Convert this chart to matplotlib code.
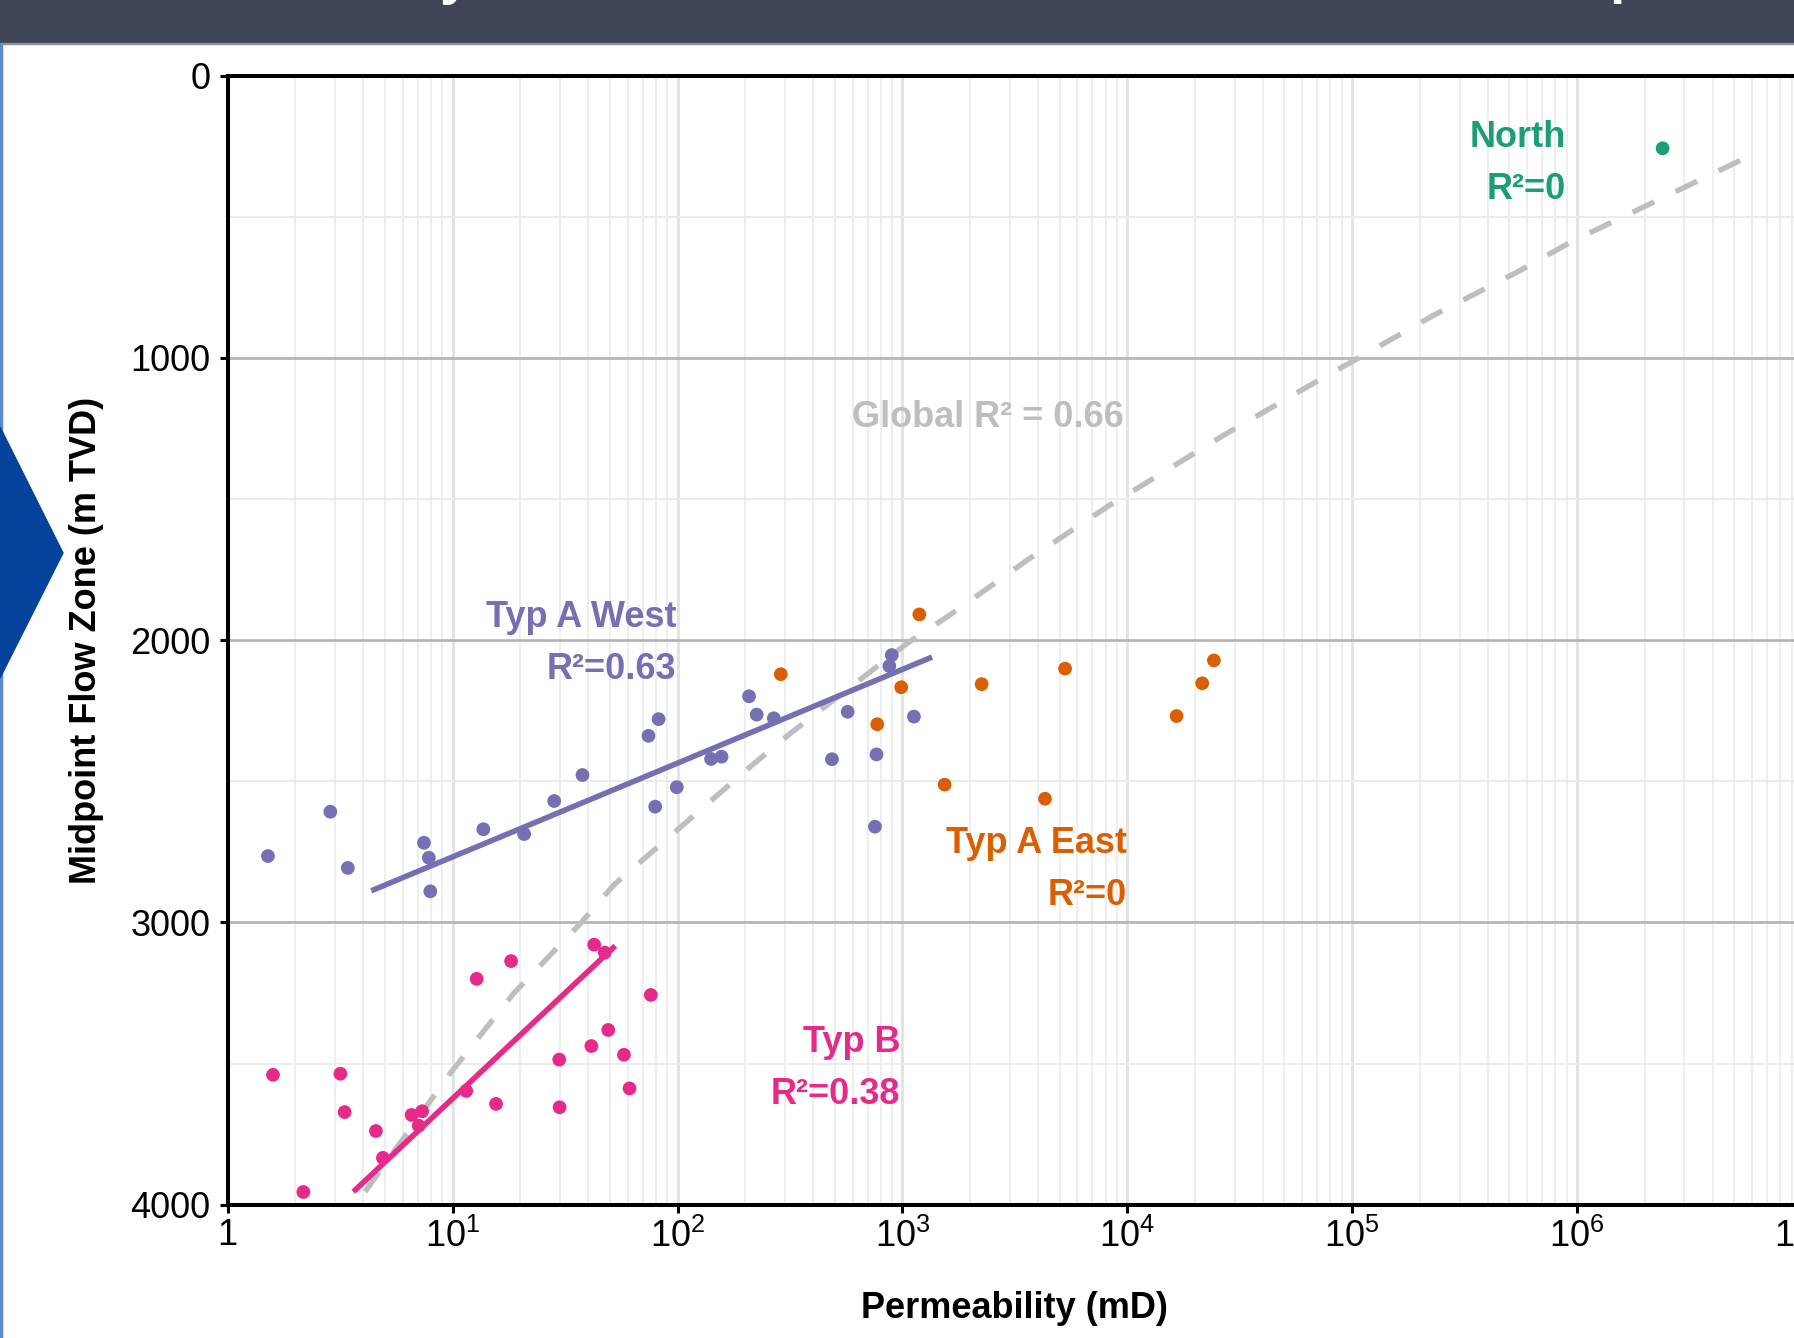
import numpy as np
import matplotlib
matplotlib.use("Agg")
import matplotlib.pyplot as plt
from matplotlib.patches import Rectangle, Polygon
from matplotlib.ticker import FixedLocator, FixedFormatter, LogLocator, MultipleLocator

plt.rcParams["font.family"] = ["Liberation Sans", "DejaVu Sans"]
plt.rcParams["mathtext.fontset"] = "custom"
plt.rcParams["mathtext.rm"] = "Liberation Sans"
plt.rcParams["mathtext.it"] = "Liberation Sans:italic"
plt.rcParams["mathtext.bf"] = "Liberation Sans:bold"

# --- data (permeability in mD, depth in m TVD) ---
west_k = [1.51, 2.86, 3.42, 7.46, 7.84, 7.96, 13.7, 20.8, 28.3, 37.8, 74.3, 82.4, 79.6,
          99.3, 141, 157, 208, 225, 268, 486, 571, 767, 755, 897, 875, 1125]
west_depth = [2765, 2608, 2807, 2718, 2771, 2890, 2670, 2687, 2570, 2478, 2339, 2280, 2590,
              2521, 2421, 2413, 2199, 2264, 2277, 2422, 2254, 2405, 2661, 2053, 2092, 2271]

east_k = [288, 773, 988, 1189, 1541, 2251, 4307, 5288, 16560, 21530, 24270]
east_depth = [2121, 2298, 2167, 1909, 2512, 2156, 2562, 2101, 2269, 2153, 2072]

typb_k = [1.59, 2.17, 3.17, 3.31, 4.56, 4.90, 6.57, 7.32, 7.07, 11.5, 12.8, 15.6, 18.2,
          29.8, 29.9, 41.4, 42.6, 47.5, 49.2, 57.8, 61.2, 76.1]
typb_depth = [3540, 3955, 3536, 3672, 3739, 3834, 3682, 3669, 3720, 3597, 3200, 3643, 3137,
              3486, 3655, 3438, 3079, 3107, 3381, 3469, 3588, 3257]

north_k = [2.40e6]
north_depth = [258]

# fitted lines (end points)
west_fit_k = [4.35, 1355]
west_fit_depth = [2888, 2060]
typb_fit_k = [3.62, 52.9]
typb_fit_depth = [3954, 3083]

# global fit curve
global_k = [4.08, 9.75, 18.7, 37.1, 52.0, 211, 318, 1052, 1585, 2388, 3597, 8166,
            26980, 63390, 105900, 231700, 545800, 941900, 5957000]
global_depth = [3954, 3535, 3251, 3003, 2868, 2448, 2330, 2011, 1917, 1817, 1716, 1527,
                1273, 1102, 1002, 848, 695, 589, 282]

group_names = ["Typ A West", "Typ A East", "Typ B", "North"]
group_r2 = ["R²=0.63", "R²=0", "R²=0.38", "R²=0"]
global_label = "Global R² = 0.66"

x_ticks = [1, 1e1, 1e2, 1e3, 1e4, 1e5, 1e6, 1e7]
x_ticklabels = ["1", "$10^{1}$", "$10^{2}$", "$10^{3}$", "$10^{4}$", "$10^{5}$",
                "$10^{6}$", "$10^{7}$"]
y_ticks = [0, 1000, 2000, 3000, 4000]

# --- style ---
C_WEST = "#7570B3"
C_EAST = "#D95F02"
C_TYPB = "#E7298A"
C_NORTH = "#1B9E77"
C_GLOBAL = "#BEBEBE"

W, H = 1794, 1338
fig = plt.figure(figsize=(W / 100, H / 100), dpi=100)

# slide decoration: title banner, left border, blue chevron
fig.patches.append(Rectangle((0, 1 - 43 / H), 1, 43 / H, transform=fig.transFigure,
                             color="#404556", zorder=0))
fig.patches.append(Rectangle((0, 1 - 44 / H), 1, 1.5 / H, transform=fig.transFigure,
                             color="#8A90A0", zorder=0))
fig.patches.append(Rectangle((0, 0), 2 / W, 1 - 44 / H, transform=fig.transFigure,
                             color="#5A8AD0", zorder=0))
fig.patches.append(Polygon([(0, 1 - 427 / H), (63 / W, 1 - 553 / H), (0, 1 - 678 / H)],
                           closed=True, transform=fig.transFigure, color="#04439C", zorder=0))
# descenders of the cut-off slide title
fig.text(455 / W, 1 + 6.7 / H, "y", color="white", fontsize=40, fontweight="bold",
         ha="center", va="baseline")
fig.text(1609 / W, 1 + 7.5 / H, "p", color="white", fontsize=40, fontweight="bold",
         ha="left", va="baseline")

ax = fig.add_axes([227.7 / W, 1 - 1204.7 / H, (1802 - 227.7) / W, (1204.7 - 75.5) / H])
ax.set_xscale("log")
ax.set_xlim(1, 1e7)
ax.set_ylim(4000, 0)

ax.xaxis.set_major_locator(FixedLocator(x_ticks))
ax.xaxis.set_major_formatter(FixedFormatter(x_ticklabels))
ax.xaxis.set_minor_locator(LogLocator(base=10, subs=np.arange(2, 10), numticks=100))
ax.yaxis.set_major_locator(FixedLocator(y_ticks))
ax.yaxis.set_minor_locator(MultipleLocator(500))

ax.set_axisbelow(True)
ax.xaxis.grid(True, which="major", color="#E3E3E3", lw=2.1)
ax.xaxis.grid(True, which="minor", color="#EDEDED", lw=1.3)
ax.yaxis.grid(True, which="major", color="#B3B3B3", lw=1.9)
ax.yaxis.grid(True, which="minor", color="#EBEBEB", lw=1.4)

for side in ["top", "left", "bottom"]:
    ax.spines[side].set_linewidth(2.9)
    ax.spines[side].set_color("black")
ax.spines["right"].set_visible(False)

ax.tick_params(axis="both", which="major", length=5.8, width=2.2, labelsize=26,
               color="black", labelcolor="black")
ax.tick_params(axis="y", which="major", pad=6.5)
ax.tick_params(axis="x", which="major", pad=4)
ax.tick_params(which="minor", length=0)

# global fit
ax.plot(global_k, global_depth, color=C_GLOBAL, lw=3.9, dashes=(4.4, 4.4), zorder=2)

# group fits
ax.plot(west_fit_k, west_fit_depth, color=C_WEST, lw=4.0, solid_capstyle="butt", zorder=3)
ax.plot(typb_fit_k, typb_fit_depth, color=C_TYPB, lw=4.0, solid_capstyle="butt", zorder=3)

# points
ms = 98
ax.scatter(west_k, west_depth, s=ms, color=C_WEST, edgecolors="none", zorder=4)
ax.scatter(east_k, east_depth, s=ms, color=C_EAST, edgecolors="none", zorder=4)
ax.scatter(typb_k, typb_depth, s=ms, color=C_TYPB, edgecolors="none", zorder=4)
ax.scatter(north_k, north_depth, s=ms, color=C_NORTH, edgecolors="none", zorder=4)

# group labels: right edge k, baseline depth of first line, second line below
label_pos = [(99, 1952), (1.0e4, 2753), (980, 3459), (8.95e5, 252)]
label_cols = [C_WEST, C_EAST, C_TYPB, C_NORTH]
for name, r2, (lk, ld), col in zip(group_names, group_r2, label_pos, label_cols):
    ax.text(lk, ld, name, color=col, fontsize=26, fontweight="bold",
            ha="right", va="baseline", zorder=5)
    ax.text(lk, ld + 185, r2, color=col, fontsize=26, fontweight="bold",
            ha="right", va="baseline", zorder=5)

ax.text(598, 1244, global_label, color=C_GLOBAL, fontsize=26, fontweight="bold",
        ha="left", va="baseline", zorder=5)

ax.set_xlabel("Permeability (mD)", fontsize=26, fontweight="bold", va="baseline")
ax.xaxis.set_label_coords(0.5, (1204.7 - 1318) / (1204.7 - 75.5))
ax.set_ylabel("Midpoint Flow Zone (m TVD)", fontsize=26, fontweight="bold", va="baseline")
ax.yaxis.set_label_coords((96 - 227.7) / (1802 - 227.7), 0.5)

fig.savefig("out.png", dpi=100)
